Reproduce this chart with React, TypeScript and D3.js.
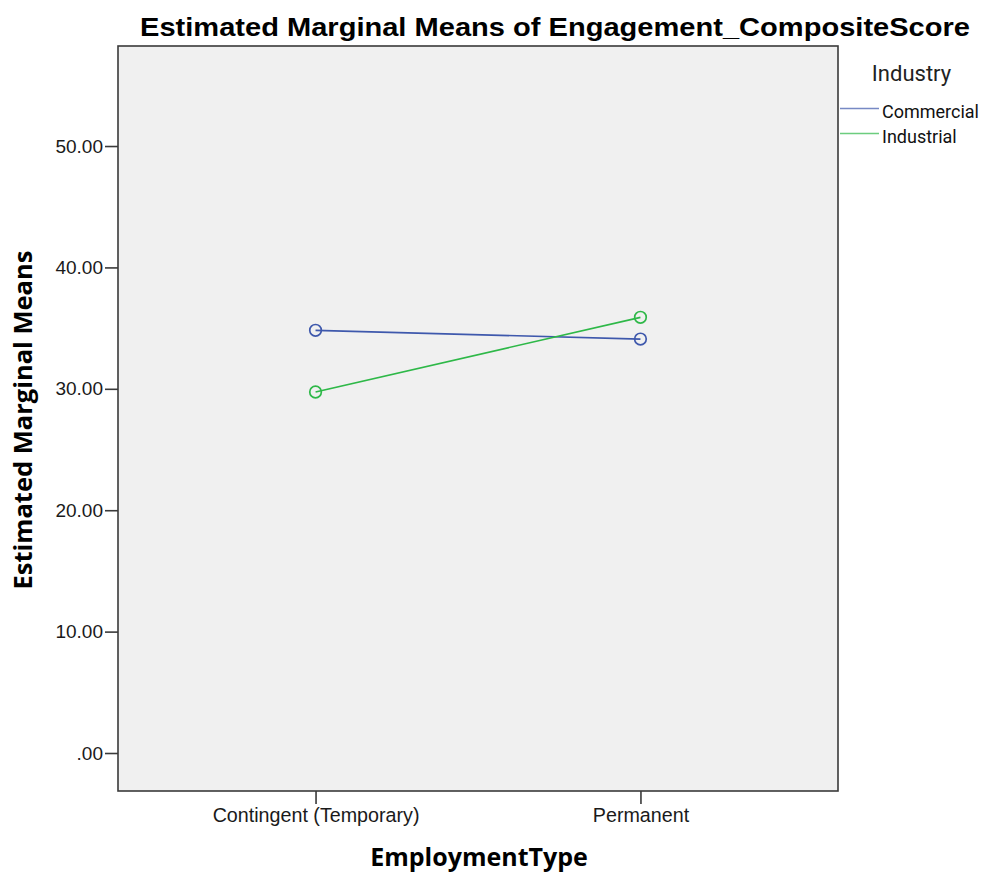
import { useEffect, useRef } from "react";
import * as d3 from "d3";

const employmentTypes = ["Contingent (Temporary)", "Permanent"];
const industries = ["Commercial", "Industrial"];
const commercialMeans = [34.82, 34.1];
const industrialMeans = [29.74, 35.89];
const yTicks = [0, 10, 20, 30, 40, 50];
const seriesColors = ["#3E58AC", "#2EB848"];

export default function App() {
  const svgRef = useRef<SVGSVGElement>(null);

  useEffect(() => {
    if (!svgRef.current) return;

    const width = 986;
    const height = 876;
    const margin = { top: 46, right: 148, bottom: 85, left: 118 };

    const svg = d3.select(svgRef.current);
    svg.selectAll("*").remove();
    svg.attr("width", width).attr("height", height);

    const xScale = d3
      .scalePoint<string>()
      .domain(employmentTypes)
      .range([margin.left, width - margin.right])
      .padding(0.608);

    const yScale = d3
      .scaleLinear()
      .domain([-3.13, 58.24])
      .range([height - margin.bottom, margin.top]);

    // Plot background
    svg
      .append("rect")
      .attr("x", margin.left)
      .attr("y", margin.top)
      .attr("width", width - margin.left - margin.right)
      .attr("height", height - margin.top - margin.bottom)
      .attr("fill", "#f0f0f0")
      .attr("stroke", "#3a3a3a")
      .attr("stroke-width", 1.6);

    // Axes
    const yAxis = svg
      .append("g")
      .attr("transform", `translate(${margin.left},0)`)
      .call(
        d3
          .axisLeft(yScale)
          .tickValues(yTicks)
          .tickSize(13)
          .tickPadding(2)
          .tickFormat((d) => (d === 0 ? ".00" : d3.format(".2f")(d as number)))
      );
    yAxis.select(".domain").remove();
    yAxis.selectAll("line").attr("stroke", "#3a3a3a").attr("stroke-width", 1.6);
    yAxis
      .selectAll("text")
      .attr("font-family", "Liberation Sans, Arial, sans-serif")
      .attr("font-size", 19)
      .attr("fill", "#1a1a1a");

    const xAxis = svg
      .append("g")
      .attr("transform", `translate(0,${height - margin.bottom})`)
      .call(d3.axisBottom(xScale).tickSize(13).tickPadding(4));
    xAxis.select(".domain").remove();
    xAxis.selectAll("line").attr("stroke", "#3a3a3a").attr("stroke-width", 1.6);
    xAxis
      .selectAll("text")
      .attr("font-family", "Liberation Sans, Arial, sans-serif")
      .attr("font-size", 19.7)
      .attr("fill", "#1a1a1a");

    // Lines and markers
    const seriesData = [commercialMeans, industrialMeans];
    const line = d3
      .line<number>()
      .x((_, i) => xScale(employmentTypes[i])!)
      .y((d) => yScale(d));

    seriesData.forEach((values, s) => {
      svg
        .append("path")
        .datum(values)
        .attr("fill", "none")
        .attr("stroke", seriesColors[s])
        .attr("stroke-width", 1.7)
        .attr("d", line);

      svg
        .selectAll(`circle.s${s}`)
        .data(values)
        .join("circle")
        .attr("class", `s${s}`)
        .attr("cx", (_, i) => xScale(employmentTypes[i])!)
        .attr("cy", (d) => yScale(d))
        .attr("r", 5.8)
        .attr("fill", "none")
        .attr("stroke", seriesColors[s])
        .attr("stroke-width", 1.7);
    });

    // Title
    svg
      .append("text")
      .attr("x", 140)
      .attr("y", 36)
      .attr("font-family", "Liberation Sans, Arial, sans-serif")
      .attr("font-weight", "bold")
      .attr("font-size", 26)
      .attr("textLength", 830)
      .attr("lengthAdjust", "spacingAndGlyphs")
      .text("Estimated Marginal Means of Engagement_CompositeScore");

    // Axis titles
    svg
      .append("text")
      .attr("transform", `translate(32,420) rotate(-90)`)
      .attr("text-anchor", "middle")
      .attr("font-family", "Open Sans, sans-serif")
      .attr("font-weight", "bold")
      .attr("font-size", 25.5)
      .text("Estimated Marginal Means");

    svg
      .append("text")
      .attr("x", 479)
      .attr("y", 866)
      .attr("text-anchor", "middle")
      .attr("font-family", "Open Sans, sans-serif")
      .attr("font-weight", "bold")
      .attr("font-size", 25)
      .text("EmploymentType");

    // Legend
    const legend = svg.append("g");
    legend
      .append("text")
      .attr("x", 911.5)
      .attr("y", 81)
      .attr("text-anchor", "middle")
      .attr("font-family", "Roboto, sans-serif")
      .attr("font-size", 22)
      .attr("fill", "#222")
      .text("Industry");

    industries.forEach((name, i) => {
      const y = 108.5 + i * 25;
      legend
        .append("line")
        .attr("x1", 840)
        .attr("x2", 879)
        .attr("y1", y)
        .attr("y2", y)
        .attr("stroke", seriesColors[i])
        .attr("stroke-width", 1.6)
        .attr("opacity", 0.7);
      legend
        .append("text")
        .attr("x", 882)
        .attr("y", y + 9.5)
        .attr("font-family", "Roboto, sans-serif")
        .attr("font-size", 18)
        .attr("fill", "#111")
        .text(name);
    });
  }, []);

  return <svg ref={svgRef} style={{ position: "absolute", left: 0, top: 0, background: "#fff" }} />;
}
